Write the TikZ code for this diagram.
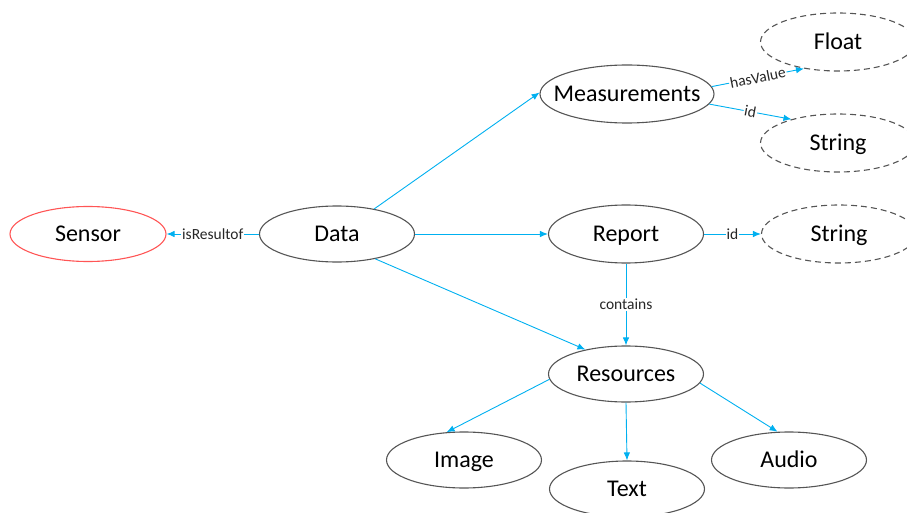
\documentclass[tikz,border=0pt]{standalone}
\usepackage{fontspec}
\setmainfont{Carlito}
\usetikzlibrary{shapes.geometric,arrows.meta}
\definecolor{linkblue}{RGB}{0,176,240}
\definecolor{rim}{RGB}{85,85,85}
\definecolor{sensorred}{RGB}{255,85,85}
% zero-width label box, so the ellipse size comes from the minimum sizes only
\newcommand{\nm}[1]{\makebox[0pt]{#1}}
\begin{document}
\begin{tikzpicture}[x=1pt,y=-1pt,
  entity/.style={ellipse,draw=rim,line width=1.1pt,minimum width=155pt,
    minimum height=56pt,inner sep=0pt,text height=17pt,text depth=2pt,
    font=\fontsize{24}{28}\selectfont},
  literal/.style={entity,dash pattern=on 6pt off 4pt},
  link/.style={draw=linkblue,line width=0.9pt,-{Latex[length=8pt,width=6.5pt]}},
  tag/.style={fill=white,inner sep=1pt,font=\fontsize{15.5}{18}\selectfont,text=black!85}
]
\useasboundingbox (0,0) rectangle (907,513);
\clip (0,0) rectangle (907,513);

% entities
\node[entity,draw=sensorred,minimum width=156pt,minimum height=55pt] (sensor) at (88,234) {\nm{Sensor}};
\node[entity] (data) at (337,234) {\nm{Data}};
\node[entity,minimum width=174pt,minimum height=58pt] (meas) at (627,94) {\nm{Measurements}};
\node[entity,minimum height=58pt] (report) at (626,234) {\nm{Report}};
\node[entity] (res) at (626,374) {\nm{Resources}};
\node[entity] (image) at (464,460) {\nm{Image}};
\node[entity] (text) at (627,489) {\nm{Text}};
\node[entity] (audio) at (789,460) {\nm{Audio}};

% literal values
\node[literal,minimum height=58pt] (float) at (838,42) {\nm{Float}};
\node[literal,minimum height=58pt] (mstr) at (838,143) {\nm{String}};
\node[literal,minimum height=58pt] (rstr) at (839,234) {\nm{String}};

% relations
\draw[link] (data.west) -- node[tag]{isResultof} (sensor.east);
\draw[link] (data.34) -- (meas.179);
\draw[link] (data.east) -- (report.west);
\draw[link] (data.-33) -- (res.149);
\draw[link] (meas.5) -- node[tag,sloped]{hasValue} (float.218);
\draw[link] (meas.-7.5) -- node[tag,sloped]{id} (mstr.153);
\draw[link] (report.east) -- node[tag]{id} (rstr.west);
\draw[link] (report.south) -- node[tag]{contains} (res.north);
\draw[link] (res.184) -- (image.122);
\draw[link] (res.south) -- (text.north);
\draw[link] (res.-7) -- (audio.112);
\end{tikzpicture}
\end{document}
